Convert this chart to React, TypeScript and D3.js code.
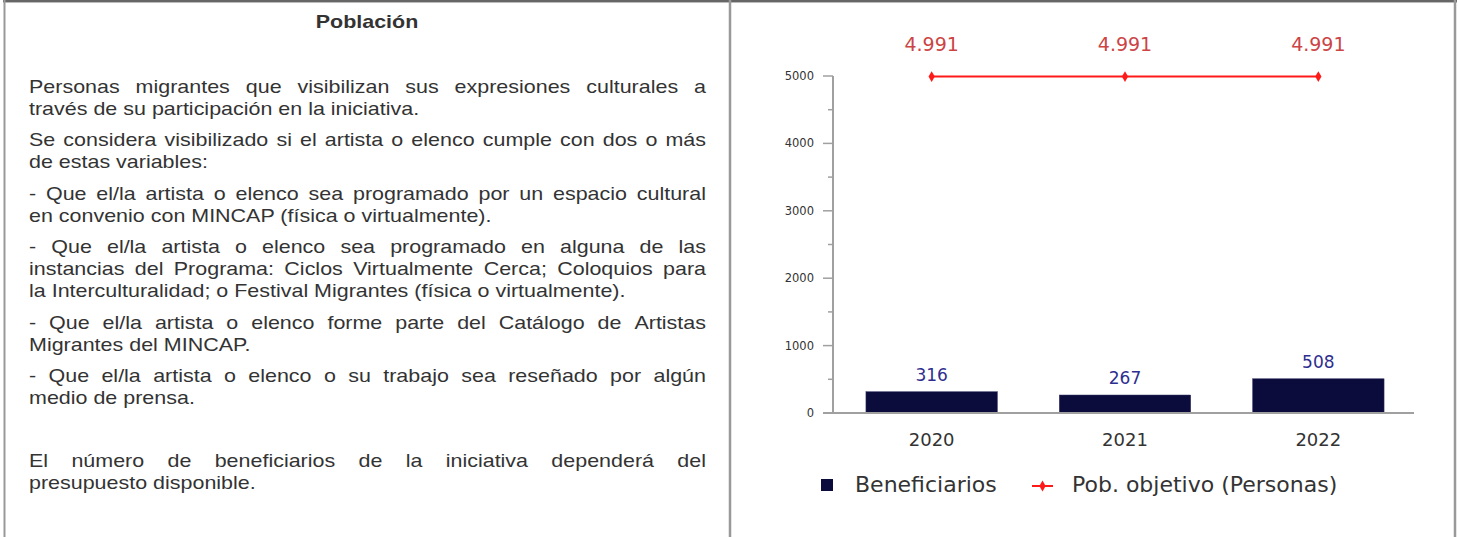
import React, { useMemo } from "react";
import * as d3 from "d3";

const years = ["2020", "2021", "2022"];
const beneficiarios = [316, 267, 508];
const beneficiariosLabels = ["316", "267", "508"];
const objetivo = [4991, 4991, 4991];
const objetivoLabels = ["4.991", "4.991", "4.991"];
const yTicks = [0, 1000, 2000, 3000, 4000, 5000];
const yMinorTicks = [500, 1500, 2500, 3500, 4500];
const legendLabels = ["Beneficiarios", "Pob. objetivo (Personas)"];
const title = "Población";
const paragraphs: string[][] = [
  ["Personas migrantes que visibilizan sus expresiones culturales a", "través de su participación en la iniciativa."],
  ["Se considera visibilizado si el artista o elenco cumple con dos o  más", "de estas variables:"],
  ["- Que el/la artista o elenco sea programado por un espacio cultural", "en convenio con MINCAP (física o virtualmente)."],
  [
    "- Que el/la artista o elenco sea programado en alguna de las",
    "instancias del Programa: Ciclos Virtualmente Cerca; Coloquios para",
    "la Interculturalidad; o Festival Migrantes (física o virtualmente).",
  ],
  ["- Que el/la artista o elenco forme parte del Catálogo de Artistas", "Migrantes del MINCAP."],
  ["- Que el/la artista o elenco o su trabajo sea reseñado por algún", "medio de prensa."],
  [],
  ["El número de beneficiarios de la iniciativa dependerá del", "presupuesto disponible."],
];

const W = 1458;
const H = 537;
const TEXT_FONT = "'Liberation Sans', Arial, sans-serif";
const CHART_FONT = "'DejaVu Sans', Verdana, sans-serif";
const textSize = 19;
const stretch = 1.13;
const textLeft = 29;
const textRight = 706;
const lineH = 22;
const paraGap = 9.4;
const firstBaseline = 93;

let ctx: CanvasRenderingContext2D | null = null;
function measure(s: string, font: string) {
  if (!ctx) ctx = document.createElement("canvas").getContext("2d");
  ctx!.font = font;
  return ctx!.measureText(s).width;
}

function Word({ x, y, text }: { x: number; y: number; text: string }) {
  return (
    <text transform={`translate(${x},${y}) scale(${stretch},1)`} fontFamily={TEXT_FONT} fontSize={textSize} fill="#333">
      {text}
    </text>
  );
}

function JustLine({ text, y, justify }: { text: string; y: number; justify: boolean }) {
  const font = `${textSize}px ${TEXT_FONT}`;
  if (!justify) {
    return <Word x={textLeft} y={y} text={text} />;
  }
  const words = text.split(/\s+/);
  const widths = words.map((w) => measure(w, font) * stretch);
  const total = widths.reduce((a, b) => a + b, 0);
  const gap = (textRight - textLeft - total) / (words.length - 1);
  let x = textLeft;
  return (
    <g>
      {words.map((w, i) => {
        const el = <Word key={i} x={x} y={y} text={w} />;
        x += widths[i] + gap;
        return el;
      })}
    </g>
  );
}

export default function App() {
  const x = d3.scaleBand<string>().domain(years).range([835, 1415]).paddingInner(0.32).paddingOuter(0.16);
  const y = d3.scaleLinear().domain([0, 5000]).range([413, 76]);
  const cx = (d: string) => (x(d) as number) + x.bandwidth() / 2;
  const line = d3
    .line<number>()
    .x((_, i) => cx(years[i]))
    .y((d) => y(d));
  const diamond = d3.symbol().type(d3.symbolDiamond).size(34)() as string;

  const textLines = useMemo(() => {
    const out: { text: string; y: number; justify: boolean }[] = [];
    let yy = firstBaseline;
    paragraphs.forEach((p) => {
      if (p.length === 0) {
        yy += lineH + paraGap;
        return;
      }
      p.forEach((t, i) => {
        out.push({ text: t, y: yy, justify: i < p.length - 1 });
        yy += lineH;
      });
      yy += paraGap;
    });
    return out;
  }, []);

  const axisColor = "#a0a0a0";
  const navy = "#0c0c3c";

  return (
    <svg width={W} height={H} style={{ position: "fixed", left: 0, top: 0, background: "#fff" }}>
      <rect x={0} y={0} width={W} height={H} fill="#fff" />
      {/* table borders */}
      <line x1={3} x2={1457} y1={1} y2={1} stroke="#666" strokeWidth={2} />
      <line x1={3} x2={1457} y1={2.5} y2={2.5} stroke="#bbb" strokeWidth={1} />
      <line x1={4.5} x2={4.5} y1={0} y2={H} stroke="#999" strokeWidth={2} />
      <line x1={730} x2={730} y1={0} y2={H} stroke="#999" strokeWidth={2.5} />
      <line x1={1455} x2={1455} y1={0} y2={H} stroke="#999" strokeWidth={2.5} />

      {/* left text */}
      <text transform={`translate(367,28) scale(${stretch},1)`} textAnchor="middle" fontFamily={TEXT_FONT} fontWeight="bold" fontSize={19} fill="#333">
        {title}
      </text>
      {textLines.map((l, i) => (
        <JustLine key={i} text={l.text} y={l.y} justify={l.justify} />
      ))}

      {/* chart */}
      <g fontFamily={CHART_FONT}>
        {beneficiarios.map((v, i) => (
          <rect key={i} x={x(years[i])} y={y(v)} width={x.bandwidth()} height={y(0) - y(v)} fill={navy} stroke="#3a3a6a" strokeWidth={0.5} />
        ))}
        <line x1={833} x2={833} y1={y(5000)} y2={y(0)} stroke={axisColor} strokeWidth={2} />
        <line x1={823} x2={1414} y1={y(0)} y2={y(0)} stroke={axisColor} strokeWidth={2} />
        {yTicks.map((t) => (
          <g key={t}>
            <line x1={823} x2={833} y1={y(t)} y2={y(t)} stroke={axisColor} strokeWidth={1.5} />
            <text x={814} y={y(t) + 4} textAnchor="end" fontSize={11.5} fill="#333">
              {t}
            </text>
          </g>
        ))}
        {yMinorTicks.map((t) => (
          <line key={t} x1={828} x2={833} y1={y(t)} y2={y(t)} stroke={axisColor} strokeWidth={1.5} />
        ))}
        {years.map((yr) => (
          <text key={yr} x={cx(yr)} y={446} textAnchor="middle" fontSize={18} fill="#333">
            {yr}
          </text>
        ))}
        {beneficiarios.map((v, i) => (
          <text key={i} x={cx(years[i])} y={y(v) - 11} textAnchor="middle" fontSize={17} fill="#2e2e90">
            {beneficiariosLabels[i]}
          </text>
        ))}
        <path d={line(objetivo) as string} fill="none" stroke="#ff1a1a" strokeWidth={2} />
        {objetivo.map((v, i) => (
          <path key={i} d={diamond} transform={`translate(${cx(years[i])},${y(v)})`} fill="#ff1a1a" />
        ))}
        {objetivo.map((v, i) => (
          <text key={i} x={cx(years[i])} y={51} textAnchor="middle" fontSize={19} fill="#cc4444">
            {objetivoLabels[i]}
          </text>
        ))}
        {/* legend */}
        <rect x={821} y={479} width={12} height={12} fill={navy} />
        <text x={855} y={492} fontSize={22} fill="#333">
          {legendLabels[0]}
        </text>
        <line x1={1032} x2={1053} y1={486} y2={486} stroke="#ff1a1a" strokeWidth={2} />
        <path d={diamond} transform="translate(1042.5,486)" fill="#ff1a1a" />
        <text x={1072} y={492} fontSize={22} fill="#333">
          {legendLabels[1]}
        </text>
      </g>
    </svg>
  );
}
